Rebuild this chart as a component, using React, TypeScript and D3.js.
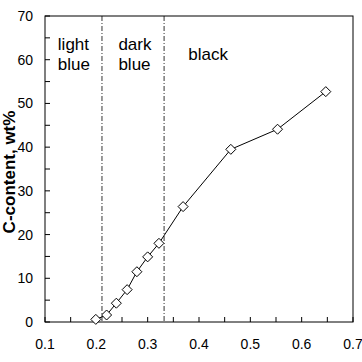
import React from "react";
import * as d3 from "d3";

const xValues = [0.199, 0.22, 0.239, 0.26, 0.279, 0.3, 0.322, 0.369, 0.462, 0.553, 0.647];
const yValues = [0.6, 1.6, 4.3, 7.4, 11.5, 14.9, 18.0, 26.4, 39.5, 44.1, 52.7];
const boundaries = [0.211, 0.332];
const regionLabels = [
  { x: 0.125, lines: ["light", "blue"] },
  { x: 0.243, lines: ["dark", "blue"] },
  { x: 0.379, lines: ["black"] },
];
const xTicks = [0.1, 0.2, 0.3, 0.4, 0.5, 0.6, 0.7];
const xMinor = [0.15, 0.25, 0.35, 0.45, 0.55, 0.65];
const yTicks = [0, 10, 20, 30, 40, 50, 60, 70];
const yMinor = [5, 15, 25, 35, 45, 55, 65];
const yTitle = "C-content, wt%";

export default function App() {
  const W = 362, H = 362;
  const L = 45, R = 353, T = 16, B = 322;
  const x = d3.scaleLinear().domain([0.1, 0.7]).range([L, R]);
  const y = d3.scaleLinear().domain([0, 70]).range([B, T]);
  const line = d3.line<number>().x((_, i) => x(xValues[i])).y((d) => y(d));
  const font = "'Liberation Sans', Arial, Helvetica, sans-serif";
  const tickLen = 5;
  const diamond = (cx: number, cy: number, r: number) =>
    `M${cx},${cy - r}L${cx + r},${cy}L${cx},${cy + r}L${cx - r},${cy}Z`;
  return (
    <svg width={W} height={H} style={{ position: "absolute", left: 0, top: 0, background: "#fff" }} fontFamily={font}>
      <rect x={0} y={0} width={W} height={H} fill="#fff" />
      {boundaries.map((b, i) => (
        <line key={"b" + i} x1={x(b)} x2={x(b)} y1={T} y2={B} stroke="#333" strokeWidth={1} strokeDasharray="5,2,1,2" />
      ))}
      {xTicks.concat(xMinor).map((t, i) => (
        <line key={"xt" + i} x1={x(t)} x2={x(t)} y1={B} y2={B - tickLen} stroke="#000" strokeWidth={1} />
      ))}
      {yTicks.concat(yMinor).map((t, i) => (
        <line key={"yt" + i} x1={L} x2={L + tickLen} y1={y(t)} y2={y(t)} stroke="#000" strokeWidth={1} />
      ))}
      <rect x={L} y={T} width={R - L} height={B - T} fill="none" stroke="#000" strokeWidth={1} />
      {xTicks.map((t, i) => (
        <text key={"xl" + i} x={x(t)} y={349} textAnchor="middle" fontSize={14}>
          {t.toFixed(1)}
        </text>
      ))}
      {yTicks.map((t, i) => (
        <text key={"yl" + i} x={33} y={y(t) + 5} textAnchor="end" fontSize={14}>
          {t}
        </text>
      ))}
      <text transform={`translate(14.5,${172}) rotate(-90)`} textAnchor="middle" fontSize={17} fontWeight="bold">
        {yTitle}
      </text>
      {regionLabels.map((r, i) => (
        <text key={"r" + i} x={x(r.x)} y={r.lines.length > 1 ? 50 : 60} fontSize={17}>
          {r.lines.map((s, j) => (
            <tspan key={j} x={x(r.x)} dy={j === 0 ? 0 : 20}>
              {s}
            </tspan>
          ))}
        </text>
      ))}
      <path d={line(yValues) || ""} fill="none" stroke="#000" strokeWidth={1} />
      {yValues.map((v, i) => (
        <path key={"m" + i} d={diamond(x(xValues[i]), y(v), 5)} fill="#fff" stroke="#000" strokeWidth={1} />
      ))}
    </svg>
  );
}
